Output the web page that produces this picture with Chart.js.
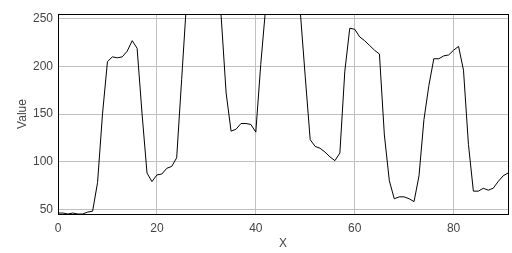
<!DOCTYPE html>
<html>
<head>
<meta charset="utf-8">
<script src="https://cdn.jsdelivr.net/npm/chart.js@4/dist/chart.umd.min.js"></script>
<style>
  html, body { margin: 0; padding: 0; background: #fff; }
  #wrap { width: 512px; height: 253px; }
</style>
</head>
<body>
<div id="wrap"><canvas id="lineChart" width="512" height="253"></canvas></div>
<script>
// values
const xValues = [
  0, 1, 2, 3, 4, 5, 6, 7, 8, 9, 10, 11, 12, 13, 14, 15, 16, 17, 18, 19,
  20, 21, 22, 23, 24, 25, 26, 27, 28, 29, 30, 31, 32, 33, 34, 35, 36, 37, 38, 39,
  40, 41, 42, 43, 44, 45, 46, 47, 48, 49, 50, 51, 52, 53, 54, 55, 56, 57, 58, 59,
  60, 61, 62, 63, 64, 65, 66, 67, 68, 69, 70, 71, 72, 73, 74, 75, 76, 77, 78, 79,
  80, 81, 82, 83, 84, 85, 86, 87, 88, 89, 90, 91,
];
const yValues = [
  46, 46, 45, 46, 45, 45, 47, 48, 78, 150, 205, 210, 209, 210, 216, 227, 219, 150, 88, 79,
  86, 87, 93, 95, 104, 186, 268, 295, 308, 312, 310, 305, 298, 252, 172, 132, 134, 140, 140, 139,
  131, 202, 262, 290, 300, 305, 302, 298, 288, 257, 189, 123, 116, 114, 110, 105, 101, 109, 195, 240,
  239, 231, 227, 222, 217, 213, 128, 80, 61, 63, 63, 61, 58, 85, 144, 180, 208, 208, 211, 212,
  217, 221, 196, 118, 69, 69, 72, 70, 72, 79, 85, 88,
];
const xTicks = [0, 20, 40, 60, 80];
const yTicks = [50, 100, 150, 200, 250];

const points = xValues.map((x, i) => ({ x: x, y: yValues[i] }));

const tickFont = { family: "'Liberation Sans', Arial, sans-serif", size: 12 };

// black frame round the plot area
const frame = {
  id: "frame",
  afterDraw(chart) {
    const a = chart.chartArea;
    const c = chart.ctx;
    c.save();
    c.strokeStyle = "#000";
    c.lineWidth = 1;
    c.strokeRect(Math.round(a.left) + 0.5, Math.round(a.top) + 0.5,
      Math.round(a.right - a.left), Math.round(a.bottom - a.top));
    c.restore();
  },
};

const ctx = document.getElementById("lineChart").getContext("2d");

new Chart(ctx, {
  type: "line",
  data: {
    datasets: [
      {
        data: points,
        borderColor: "#000",
        borderWidth: 1,
        pointRadius: 0,
        tension: 0,
        fill: false,
      },
    ],
  },
  options: {
    responsive: false,
    animation: false,
    layout: { padding: { top: 14, right: 4, left: 0, bottom: 0 } },
    plugins: { legend: { display: false }, tooltip: { enabled: false } },
    scales: {
      x: {
        type: "linear",
        min: 0,
        max: 91,
        afterBuildTicks: (s) => { s.ticks = xTicks.map((v) => ({ value: v })); },
        afterFit: (s) => { s.height = 39; },
        grid: { color: "#c0c0c0", drawTicks: false },
        border: { display: false },
        ticks: { font: tickFont, color: "#444", padding: 7, maxRotation: 0 },
        title: { display: true, text: "X", font: tickFont, color: "#444", padding: { top: 0, bottom: 2 } },
      },
      y: {
        min: 45,
        max: 255,
        afterBuildTicks: (s) => { s.ticks = yTicks.map((v) => ({ value: v })); },
        afterFit: (s) => { s.width = 58; },
        grid: { color: "#c0c0c0", drawTicks: false },
        border: { display: false },
        ticks: { font: tickFont, color: "#444", padding: 5 },
        title: { display: true, text: "Value", font: tickFont, color: "#444", padding: { top: 15, bottom: 0 } },
      },
    },
  },
  plugins: [frame],
});
</script>
</body>
</html>
